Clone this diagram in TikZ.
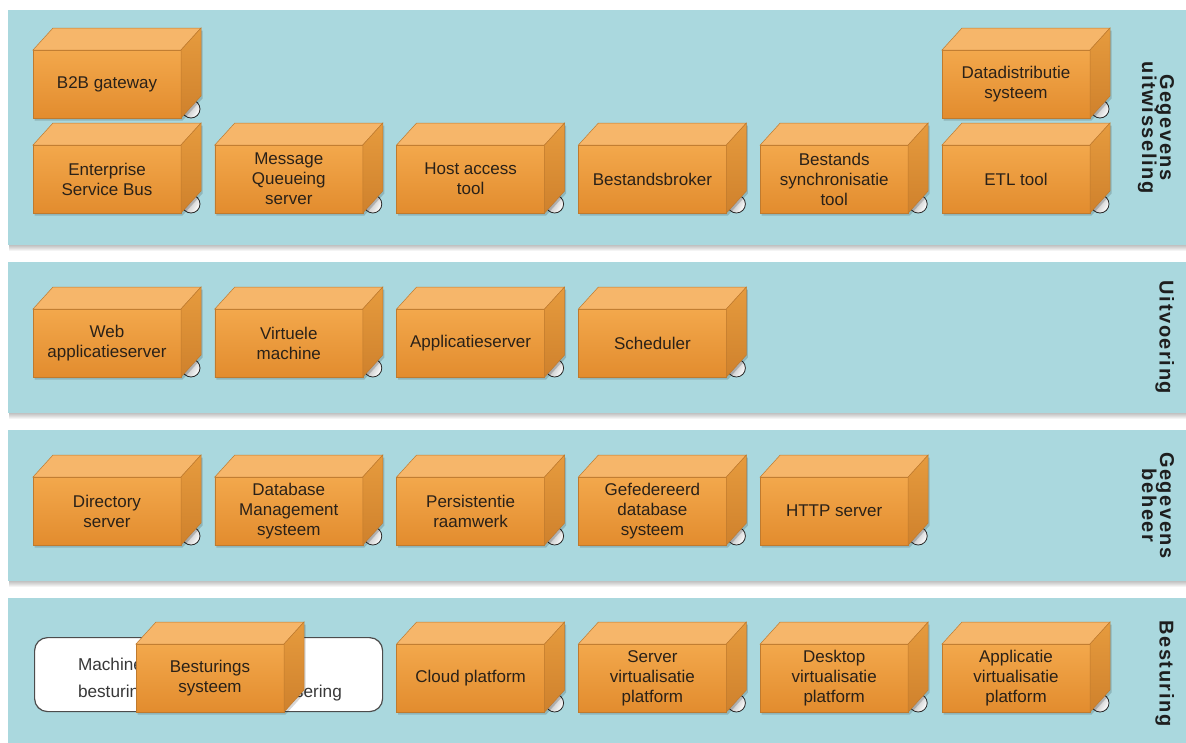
\documentclass[tikz,border=0pt]{standalone}
\usepackage{fontspec}
\setmainfont{Liberation Sans}
\newfontfamily\lblfam[LetterSpace=8]{Liberation Sans}
\newcommand\lblfont{\lblfam\bfseries\fontsize{20}{18}\selectfont\lineskiplimit=-20pt}
\newcommand\boxfont{\fontsize{17}{20}\selectfont}
\newcommand\notefont{\fontsize{17.2}{27}\selectfont}

\definecolor{bandfill}{HTML}{AAD8DE}
\definecolor{frontTop}{HTML}{F3A84C}
\definecolor{frontBot}{HTML}{E28C2E}
\definecolor{topFace}{HTML}{F6B66A}
\definecolor{sideTop}{HTML}{E69B3E}
\definecolor{sideBot}{HTML}{CF812C}
\definecolor{boxedge}{HTML}{BF7A2E}
\definecolor{boxtext}{HTML}{2A2118}
\definecolor{lbltext}{HTML}{1E1E1E}

\tikzset{
  bandbox/.style={anchor=north west, fill=bandfill, draw=none, inner sep=0pt, outer sep=0pt,
    minimum width=1178pt},
  lbl/.style={rotate=-90, anchor=north, inner sep=0pt, outer sep=0pt, align=center,
    font=\lblfont, text=lbltext},
  techbox/.style={anchor=north west, minimum width=148pt, minimum height=68pt, inner sep=0pt,
    outer sep=0pt, align=center, font=\boxfont, text=boxtext, top color=frontTop,
    bottom color=frontBot, draw=boxedge, line width=.5pt},
  topface/.style={fill=topFace, draw=boxedge, line width=.5pt},
  sideface/.style={top color=sideTop, bottom color=sideBot, draw=boxedge, line width=.5pt},
  icon/.style={left color=black!35, right color=white, shading angle=60, draw=black!85, line width=.8pt},
  notebox/.style={anchor=north west, minimum width=348pt, minimum height=74pt, inner sep=0pt,
    rounded corners=13pt, draw=black!70, line width=1.2pt, fill=white},
  notetext/.style={anchor=west, inner sep=0pt, outer sep=0pt, align=left,
    font=\notefont, text=black!78},
}

% band with a soft shadow under its lower edge
\newcommand\bandshadow[2]{%
  \foreach \k in {1,...,6}{\fill[black,opacity=.045] (9,{#1+\k}) rectangle (1186,{#2+\k});}%
}
% small device mark behind the lower right corner of a node
\newcommand\devicemark[2]{%
  \draw[icon] ({#1+158},{#2+59}) circle (9);%
}
% three-dimensional node; #2,#3 = top left corner of its front face
\newcommand\archnode[4]{%
  \fill[black,opacity=.16] ({#2+1.5},{#3+2.5}) -- ++(20,-22) -- ++(148,0) -- ++(0,68)
    -- ++(-20,22) -- ++(-148,0) -- cycle;
  \node[techbox] (#1) at (#2,#3) {#4};
  \path[topface] (#1.north west) -- ++(20,-22) -- ++(148,0) -- (#1.north east) -- cycle;
  \path[sideface] (#1.north east) -- ++(20,-22) -- ++(0,68) -- (#1.south east) -- cycle;
}

\begin{document}
\begin{tikzpicture}[x=1pt,y=-1pt]
\clip (0,0) rectangle (1186,742);
\fill[white] (0,0) rectangle (1186,742);

% layers
\bandshadow{10}{245}
\node[bandbox, minimum height=235pt] (b1) at (8,10) {};
\bandshadow{262}{413}
\node[bandbox, minimum height=151pt] (b2) at (8,262) {};
\bandshadow{430}{581}
\node[bandbox, minimum height=151pt] (b3) at (8,430) {};
\bandshadow{598}{749}
\node[bandbox, minimum height=151pt] (b4) at (8,598) {};

\node[lbl] (l1) at ([xshift=-12pt]b1.east) {Gegevens\\uitwisseling};
\node[lbl] (l2) at ([xshift=-12pt]b2.east) {Uitvoering};
\node[lbl] (l3) at ([xshift=-12pt]b3.east) {Gegevens\\beheer};
\node[lbl] (l4) at ([xshift=-12pt]b4.east) {Besturing};

% Gegevensuitwisseling
\devicemark{33}{50}\archnode{b2b}{33}{50}{B2B gateway}
\devicemark{942}{50}\archnode{dds}{942}{50}{Datadistributie\\systeem}
\devicemark{33}{145}\archnode{esb}{33}{145}{Enterprise\\Service Bus}
\devicemark{214.8}{145}\archnode{mqs}{214.8}{145}{Message\\Queueing\\server}
\devicemark{396.6}{145}\archnode{hat}{396.6}{145}{Host access\\tool}
\devicemark{578.4}{145}\archnode{bbr}{578.4}{145}{Bestandsbroker}
\devicemark{760.2}{145}\archnode{bst}{760.2}{145}{Bestands\\synchronisatie\\tool}
\devicemark{942}{145}\archnode{etl}{942}{145}{ETL tool}

% Uitvoering
\devicemark{33}{309}\archnode{was}{33}{309}{Web\\applicatieserver}
\devicemark{214.8}{309}\archnode{vm}{214.8}{309}{Virtuele\\machine}
\devicemark{396.6}{309}\archnode{as}{396.6}{309}{Applicatieserver}
\devicemark{578.4}{309}\archnode{sch}{578.4}{309}{Scheduler}

% Gegevensbeheer
\devicemark{33}{477}\archnode{dir}{33}{477}{Directory\\server}
\devicemark{214.8}{477}\archnode{dbms}{214.8}{477}{Database\\Management\\systeem}
\devicemark{396.6}{477}\archnode{pr}{396.6}{477}{Persistentie\\raamwerk}
\devicemark{578.4}{477}\archnode{gds}{578.4}{477}{Gefedereerd\\database\\systeem}
\devicemark{760.2}{477}\archnode{http}{760.2}{477}{HTTP server}

% Besturing
\node[notebox] (mach) at (34,637) {};
\node[notetext] (machtxt) at ([xshift=44pt,yshift=-5pt]mach.west)
  {Machine- en installatie-\\besturing en procesautomatisering};
\archnode{os}{136}{644}{Besturings\\systeem}
\devicemark{396.6}{644}\archnode{cloud}{396.6}{644}{Cloud platform}
\devicemark{578.4}{644}\archnode{svp}{578.4}{644}{Server\\virtualisatie\\platform}
\devicemark{760.2}{644}\archnode{dvp}{760.2}{644}{Desktop\\virtualisatie\\platform}
\devicemark{942}{644}\archnode{avp}{942}{644}{Applicatie\\virtualisatie\\platform}
\end{tikzpicture}
\end{document}
